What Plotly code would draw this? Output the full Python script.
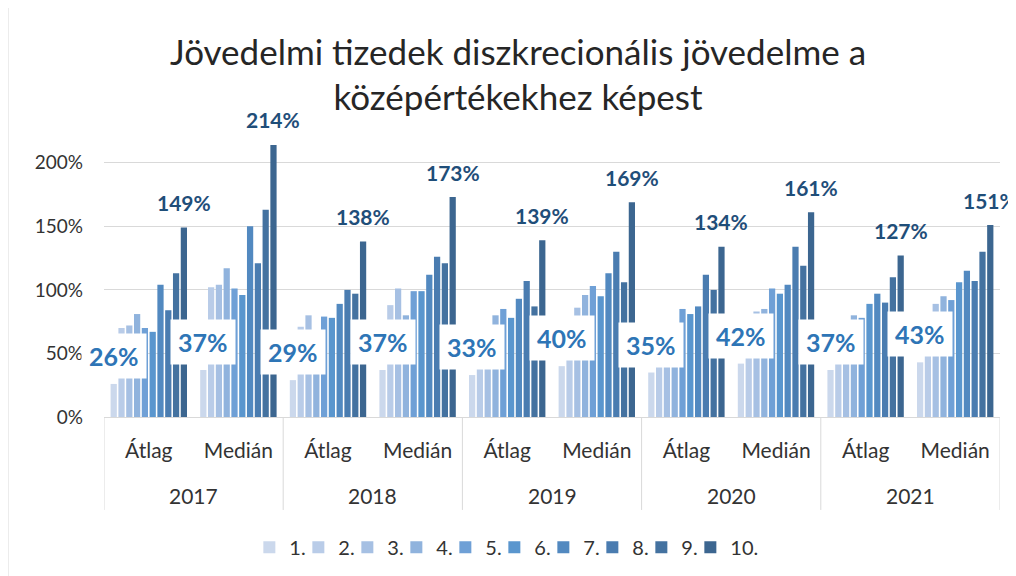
import plotly.graph_objects as go

# ---- data ----
years = ["2017", "2018", "2019", "2020", "2021"]
stats = ["Átlag", "Medián"]
deciles = ["1.", "2.", "3.", "4.", "5.", "6.", "7.", "8.", "9.", "10."]

# values per decile, order: 2017 Átlag, 2017 Medián, 2018 Átlag, ... 2021 Medián (in %)
d1 = [26, 37, 29, 37, 33, 40, 35, 42, 37, 43]
d2 = [70, 102, 71, 88, 62, 72, 62, 76, 70, 78]
d3 = [72, 104, 80, 101, 67, 86, 66, 83, 76, 89]
d4 = [81, 117, 64, 80, 80, 96, 70, 85, 80, 95]
d5 = [70, 101, 79, 99, 85, 103, 85, 101, 78, 92]
d6 = [67, 96, 78, 99, 78, 95, 81, 97, 89, 106]
d7 = [104, 150, 89, 112, 93, 113, 87, 104, 97, 115]
d8 = [84, 121, 100, 126, 107, 130, 112, 134, 90, 107]
d9 = [113, 163, 97, 121, 87, 106, 100, 119, 110, 130]
d10 = [149, 214, 138, 173, 139, 169, 134, 161, 127, 151]

series = [d1, d2, d3, d4, d5, d6, d7, d8, d9, d10]
colors = ["#cbd8ec", "#b9cce8", "#a6c0e3", "#90b3dd", "#6fa0d6",
          "#5a96ce", "#5289c0", "#4a7cb0", "#4472a0", "#3c6690"]

# parent level of the category axis: one (blank, unique) key per year;
# the year texts themselves are drawn as annotations below
year_keys = [" " * (j + 1) for j in range(len(years))]
x_parent = [year_keys[j] for j in range(len(years)) for s in stats]
x_child = [s for y in years for s in stats]

FONT = "Lato"
BARGAP = 0.13
BARGROUPGAP = 0.2
AXIS_FONT = dict(family=FONT, size=21, color="#333333")

fig = go.Figure()
for name, vals, col in zip(deciles, series, colors):
    fig.add_trace(go.Bar(
        x=[x_parent, x_child], y=vals, name=name,
        marker=dict(color=col, line=dict(width=0)),
        hoverinfo="y",
    ))
# invisible spacer legend entry so the last legend label is not clipped
fig.add_trace(go.Scatter(x=[[x_parent[0]], [x_child[0]]], y=[0], name=" ",
                         mode="markers", showlegend=True,
                         marker=dict(color="rgba(0,0,0,0)", size=1),
                         hoverinfo="skip"))

n = len(series)
slot = (1 - BARGAP) / n
ns = len(stats)


def bar_pos(i, k):
    return i - (1 - BARGAP) / 2 + (k + 0.5) * slot


annotations = []
for i in range(len(d1)):
    annotations.append(dict(
        x=bar_pos(i, 0), y=d1[i], xref="x", yref="y",
        text=f"{d1[i]}%", showarrow=False, yanchor="middle", yshift=28,
        bgcolor="white", borderpad=7,
        font=dict(family=FONT, size=25, color="#2e75b6", weight="bold"),
    ))
    annotations.append(dict(
        x=bar_pos(i, n - 1), y=d10[i], xref="x", yref="y",
        text=f"{d10[i]}%", showarrow=False, yanchor="middle", yshift=25,
        font=dict(family=FONT, size=21, color="#1f4e79", weight="bold"),
    ))

# year labels (second level of the category axis)
for j, yr in enumerate(years):
    annotations.append(dict(
        x=j * ns + (ns - 1) / 2, y=-0.276, xref="x", yref="paper",
        text=yr, showarrow=False, yanchor="middle", font=AXIS_FONT,
    ))

# dividers between the year groups
shapes = []
for j in range(len(years) + 1):
    xb = j * ns - 0.5
    shapes.append(dict(type="line", xref="x", yref="paper",
                       x0=xb, x1=xb, y0=0, y1=-0.325,
                       line=dict(color="#d9d9d9", width=1)))
# chart-area border on the left
shapes.append(dict(type="line", xref="paper", yref="paper",
                   x0=-96 / 896, x1=-96 / 896, y0=-1, y1=2,
                   line=dict(color="#d9d9d9", width=1)))

fig.update_layout(
    width=1016, height=576,
    margin=dict(l=96, r=24, t=123, b=167, autoexpand=False),
    paper_bgcolor="white", plot_bgcolor="white",
    barmode="group", bargap=BARGAP, bargroupgap=BARGROUPGAP,
    font=dict(family=FONT, color="#262626"),
    title=dict(
        text="Jövedelmi tizedek diszkrecionális jövedelme a<br>középértékekhez képest",
        font=dict(family=FONT, size=35, color="#262626"),
        xref="container", x=0.502, xanchor="center",
        yref="container", y=0.9015, yanchor="top",
    ),
    yaxis=dict(
        range=[0, 225], dtick=50, ticksuffix="%",
        showgrid=True, gridcolor="#d9d9d9", gridwidth=1,
        zeroline=False, showline=False, automargin=False,
        tickfont=dict(family=FONT, size=19, color="#333333"),
        ticklabelstandoff=20,
    ),
    xaxis=dict(
        type="multicategory", automargin=False, range=[-0.5, 9.5],
        showline=True, linecolor="#d9d9d9", linewidth=1,
        showdividers=False,
        ticks="", ticklabelstandoff=15,
        tickfont=AXIS_FONT,
    ),
    legend=dict(
        orientation="h", x=0.463, xanchor="center", y=-0.455, yanchor="middle",
        font=dict(family=FONT, size=20, color="#333333"),
        itemwidth=30, entrywidth=4, entrywidthmode="pixels",
    ),
    annotations=annotations,
    shapes=shapes,
    showlegend=True,
)

fig.write_html("out.html")
